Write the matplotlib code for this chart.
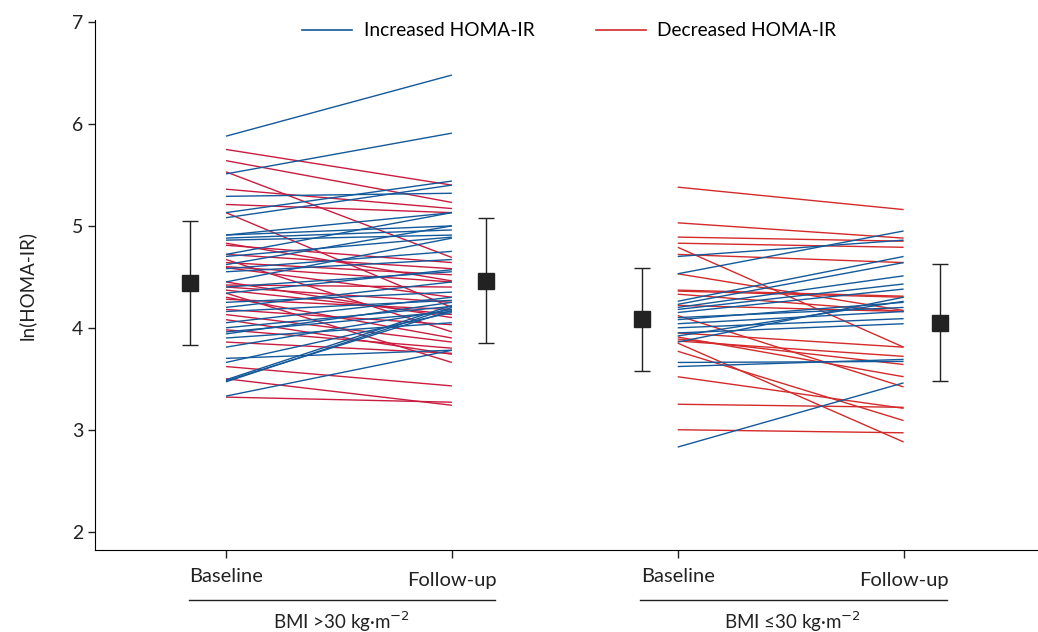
import numpy as np
import matplotlib.pyplot as plt
from matplotlib.lines import Line2D

plt.rcParams['font.family'] = ['Lato', 'DejaVu Sans']

# (baseline, follow-up) pairs
obese_up = [(5.88, 6.48), (5.51, 5.91), (5.29, 5.32), (5.13, 5.44), (5.08, 5.40),
            (4.91, 5.13), (4.91, 5.00), (4.88, 4.96), (4.86, 4.91), (4.70, 4.89),
            (4.72, 5.13), (4.58, 4.75), (4.55, 4.67), (4.34, 4.57), (4.25, 4.35),
            (4.16, 4.27), (4.00, 4.21), (3.96, 4.16), (3.94, 4.25), (3.81, 4.18),
            (3.70, 3.78), (3.66, 4.15), (3.47, 4.20), (3.48, 4.17), (3.49, 4.22),
            (3.33, 3.78), (4.40, 4.55), (4.20, 4.45), (4.05, 4.30), (3.90, 4.05),
            (4.62, 5.00), (4.45, 4.88)]
obese_down = [(5.75, 5.40), (5.64, 5.23), (5.53, 4.69), (5.36, 5.17), (5.21, 5.13),
              (5.13, 4.20), (4.81, 4.64), (4.72, 4.58), (4.67, 3.96), (4.64, 4.52),
              (4.60, 4.45), (4.42, 4.40), (4.40, 4.25), (4.37, 4.13), (4.34, 3.66),
              (4.18, 4.03), (4.13, 3.86), (4.08, 3.74), (3.86, 3.75), (3.62, 3.43),
              (3.50, 3.24), (3.32, 3.27), (4.59, 4.30), (4.28, 4.18), (4.45, 4.10),
              (3.98, 3.80), (4.83, 4.46), (4.30, 3.90)]
lean_up = [(4.70, 4.86), (4.53, 4.95), (4.26, 4.70), (4.23, 4.64), (4.20, 4.51),
           (4.15, 4.38), (3.86, 4.30), (3.92, 4.26), (3.95, 4.04), (4.00, 4.09),
           (4.04, 4.16), (4.08, 4.25), (4.18, 4.43), (3.62, 3.69), (3.66, 3.67),
           (2.83, 3.46), (4.10, 4.20)]
lean_down = [(5.38, 5.16), (5.03, 4.88), (4.89, 4.85), (4.83, 4.79), (4.79, 3.81),
             (4.72, 4.64), (4.53, 4.17), (4.36, 4.30), (4.33, 4.16), (4.22, 4.16),
             (4.37, 4.31), (4.12, 3.42), (3.91, 3.52), (3.89, 3.64), (3.87, 3.72),
             (3.95, 3.81), (3.85, 2.88), (3.77, 3.09), (3.52, 3.21), (3.25, 3.22),
             (3.00, 2.97)]

# group means with error bar limits (mean, low, high)
mean_obese = [(4.44, 3.83, 5.05), (4.46, 3.85, 5.08)]
mean_lean = [(4.09, 3.58, 4.59), (4.05, 3.48, 4.63)]

tick_labels = ['Baseline', 'Follow-up', 'Baseline', 'Follow-up']
group_labels = ['BMI >30 kg\u00b7m$^{\u22122}$', 'BMI \u226430 kg\u00b7m$^{\u22122}$']

blue = '#14599a'
red1 = '#c91c40'
red2 = '#d42a2a'

fig = plt.figure(figsize=(10.38, 6.32), dpi=100)
ax = fig.add_axes([95/1038, 1 - 550/632, 1 - 95/1038, 530/632])

def draw_pairs(pairs, x0, color):
    for a, b in pairs:
        ax.plot([x0, x0 + 1], [a, b], color=color, lw=1.0, solid_capstyle='butt')

draw_pairs(obese_down, 0, red1)
draw_pairs(obese_up, 0, blue)
draw_pairs(lean_down, 2, red2)
draw_pairs(lean_up, 2, blue)

for xm, (m, lo, hi) in zip([-0.16, 1.15], mean_obese):
    ax.errorbar(xm, m, yerr=[[m - lo], [hi - m]], fmt='s', color='#222222',
                ms=11, capsize=6, elinewidth=1, capthick=1)
for xm, (m, lo, hi) in zip([1.84, 3.16], mean_lean):
    ax.errorbar(xm, m, yerr=[[m - lo], [hi - m]], fmt='s', color='#222222',
                ms=11, capsize=6, elinewidth=1, capthick=1)

ax.set_xlim(-0.58, 3.595)
ax.set_ylim(1.82, 7.02)
ax.set_yticks([2, 3, 4, 5, 6, 7])
ax.tick_params(axis='y', labelsize=14, length=5, width=1, colors='#222222')
ax.set_xticks([0, 1, 2, 3])
ax.set_xticklabels([])
ax.tick_params(axis='x', length=6, width=1, colors='#222222')
ax.spines['top'].set_visible(False)
ax.spines['right'].set_visible(False)
ax.set_ylabel('ln(HOMA-IR)', fontsize=13.5, color='#222222', labelpad=26)

trans = ax.get_xaxis_transform()
for x, lab in zip([0, 1, 2, 3], tick_labels):
    dy = -0.05 if lab == 'Baseline' else -0.057
    ax.text(x, dy, lab, transform=trans, ha='center', va='center', fontsize=14.5,
            color='#222222', clip_on=False)

for x0, lab in zip([0, 2], group_labels):
    ax.plot([x0 - 0.165, x0 + 1.19], [-0.095, -0.095], transform=trans,
            color='#222222', lw=1, clip_on=False)
    ax.text(x0 + 0.51, -0.135, lab, transform=trans, ha='center', va='center',
            fontsize=13.5, color='#222222', clip_on=False)

handles = [Line2D([], [], color=blue, lw=1.2), Line2D([], [], color=red2, lw=1.2)]
ax.legend(handles, ['Increased HOMA-IR', 'Decreased HOMA-IR'], ncol=2,
          frameon=False, fontsize=13.8, handlelength=2.6, handletextpad=0.6,
          columnspacing=3.2, loc='upper center', bbox_to_anchor=(0.503, 1.028))

fig.savefig('out.png', dpi=100)
